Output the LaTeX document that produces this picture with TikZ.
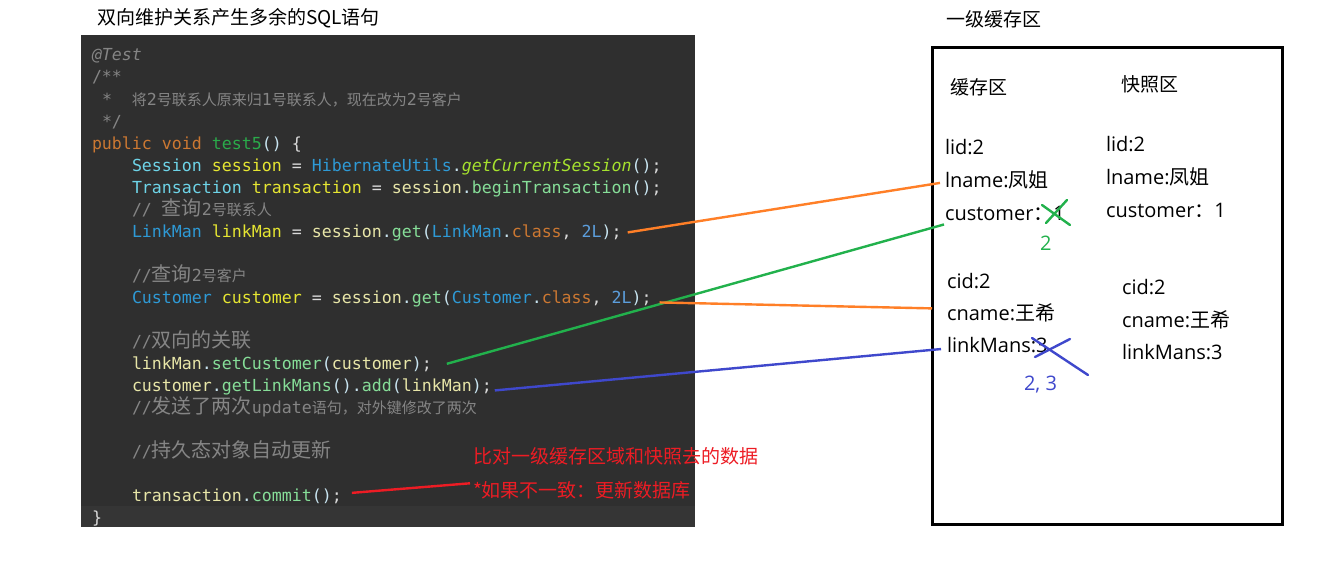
\documentclass[tikz,border=0pt]{standalone}
\usepackage{fontspec}
\newfontfamily\cjk{Noto Sans CJK SC}
\newfontfamily\codefnt{DejaVu Sans Mono}
\newfontfamily\sansf{Open Sans}
\definecolor{panel}{HTML}{2F2F2F}
\definecolor{panelhl}{HTML}{353535}
\definecolor{cmt}{HTML}{858585}
\definecolor{kw}{HTML}{CC7832}
\definecolor{fn}{HTML}{2AAA4A}
\definecolor{itype}{HTML}{6ED4E8}
\definecolor{ctype}{HTML}{2E9AD6}
\definecolor{var}{HTML}{E6E632}
\definecolor{pale}{HTML}{E8E6A8}
\definecolor{meth}{HTML}{86DE98}
\definecolor{italm}{HTML}{A6E22E}
\definecolor{punc}{HTML}{C8E4F0}
\definecolor{num}{HTML}{5C9EDC}
\definecolor{plain}{HTML}{DADADA}
\definecolor{oline}{HTML}{FF7F27}
\definecolor{gline}{HTML}{22B14C}
\definecolor{bline}{HTML}{3F48CC}
\definecolor{rline}{HTML}{ED1C24}
\newcommand\Ckw[1]{\textcolor{kw}{#1}}
\newcommand\Cfn[1]{\textcolor{fn}{#1}}
\newcommand\Cit[1]{\textcolor{itype}{#1}}
\newcommand\Cty[1]{\textcolor{ctype}{#1}}
\newcommand\Cvr[1]{\textcolor{var}{#1}}
\newcommand\Cpa[1]{\textcolor{pale}{#1}}
\newcommand\Cme[1]{\textcolor{meth}{#1}}
\newcommand\Cim[1]{\textcolor{italm}{\itshape #1}}
\newcommand\Cpu[1]{\textcolor{punc}{#1}}
\newcommand\Cnu[1]{\textcolor{num}{#1}}
\newcommand\Cpl[1]{\textcolor{plain}{#1}}
\newcommand\Ccm[1]{\textcolor{cmt}{#1}}
\newcommand\CL[1]{{\cjk\fontsize{20}{22}\selectfont #1}}
\newcommand\CS[1]{{\cjk\fontsize{15}{18}\selectfont #1}}
\tikzset{
  codeline/.style={anchor=base west, inner sep=0pt, outer sep=0pt, text=plain,
    font=\codefnt\fontsize{16.6}{20}\selectfont},
  boxtxt/.style={anchor=base west, inner sep=0pt, outer sep=0pt, text=black,
    font=\sansf\fontsize{20}{24}\selectfont},
  cjktxt/.style={anchor=base west, inner sep=0pt, outer sep=0pt, text=black,
    font=\cjk\fontsize{19}{22}\selectfont},
  conn/.style={line width=2.4pt},
  xmark/.style={line width=2.4pt, line cap=round},
}
\begin{document}
\begin{tikzpicture}[x=1pt,y=-1pt]
\useasboundingbox[fill=white] (0,0) rectangle (1322,578);
% code panel
\fill[panel] (81,35) rectangle (695,527);
\fill[panelhl] (81,506) rectangle (695,527);
% title
\node[cjktxt] (title) at (97,25) {双向维护关系产生多余的SQL语句};
% code lines
\node[codeline] (l1) at (92,61) {\Ccm{\itshape @Test}};
\node[codeline] (l2) at (92,82) {\Ccm{/**}};
\node[codeline] (l3) at (102,105) {\Ccm{*\hspace{20pt}\CS{将}2\CS{号联系人原来归}1\CS{号联系人，现在改为}2\CS{号客户}}};
\node[codeline] (l4) at (102,127) {\Ccm{*/}};
\node[codeline] (l5) at (92,149) {\Ckw{public void} \Cfn{test5}\Cpu{()} \Cpl{\{}};
\node[codeline] (l6) at (132,171) {\Cit{Session} \Cvr{session} \Cpl{=} \Cty{HibernateUtils}\Cpu{.}\Cim{getCurrentSession}\Cpu{()}\Cpl{;}};
\node[codeline] (l7) at (132,193) {\Cit{Transaction} \Cvr{transaction} \Cpl{=} \Cpa{session}\Cpu{.}\Cme{beginTransaction}\Cpu{()}\Cpl{;}};
\node[codeline] (l8) at (132,215) {\Ccm{// \CL{查询}2\CS{号联系人}}};
\node[codeline] (l9) at (132,237) {\Cty{LinkMan} \Cvr{linkMan} \Cpl{=} \Cpa{session}\Cpu{.}\Cme{get}\Cpu{(}\Cty{LinkMan}\Cpu{.}\Ckw{class}\Cpl{,} \Cnu{2L}\Cpu{)}\Cpl{;}};
\node[codeline] (l11) at (132,281) {\Ccm{//\CL{查询}2\CS{号客户}}};
\node[codeline] (l12) at (132,303) {\Cty{Customer} \Cvr{customer} \Cpl{=} \Cpa{session}\Cpu{.}\Cme{get}\Cpu{(}\Cty{Customer}\Cpu{.}\Ckw{class}\Cpl{,} \Cnu{2L}\Cpu{)}\Cpl{;}};
\node[codeline] (l14) at (132,347) {\Ccm{//\CL{双向的关联}}};
\node[codeline] (l15) at (132,369) {\Cpa{linkMan}\Cpu{.}\Cme{setCustomer}\Cpu{(}\Cpa{customer}\Cpu{)}\Cpl{;}};
\node[codeline] (l16) at (132,391) {\Cpa{customer}\Cpu{.}\Cme{getLinkMans}\Cpu{().}\Cme{add}\Cpu{(}\Cpa{linkMan}\Cpu{)}\Cpl{;}};
\node[codeline] (l17) at (132,413) {\Ccm{//\CL{发送了两次}update\CS{语句，对外键修改了两次}}};
\node[codeline] (l19) at (132,457) {\Ccm{//\CL{持久态对象自动更新}}};
\node[codeline] (l21) at (132,501) {\Cpa{transaction}\Cpu{.}\Cme{commit}\Cpu{()}\Cpl{;}};
\node[codeline] (l22) at (92,523) {\Cpl{\}}};
% red notes
\node[cjktxt, text=rline] (red1) at (473,463) {比对一级缓存区域和快照去的数据};
\node[cjktxt, text=rline] (red2) at (473,497) {*如果不一致：更新数据库};
% right box
\node[cjktxt] (cachetitle) at (946,27) {一级缓存区};
\node[draw, line width=3pt, minimum width=350pt, minimum height=476pt, inner sep=0pt, outer sep=0pt] (box) at (1107,286) {};
\node[cjktxt] (cache) at (950,95) {缓存区};
\node[cjktxt] (snap) at (1121,92) {快照区};
\node[boxtxt] (lidL) at (945,154) {lid:2};
\node[boxtxt] (lnameL) at (945,187) {lname:{\cjk 凤姐}};
\node[boxtxt] (custL) at (945,220) {customer{\cjk ：}1};
\node[boxtxt, text=gline] (two) at (1040,250) {2};
\node[boxtxt] (lidR) at (1106,151) {lid:2};
\node[boxtxt] (lnameR) at (1106,184) {lname:{\cjk 凤姐}};
\node[boxtxt] (custR) at (1106,217) {customer{\cjk ：}1};
\node[boxtxt] (cidL) at (947,288) {cid:2};
\node[boxtxt] (cnameL) at (947,320) {cname:{\cjk 王希}};
\node[boxtxt] (lmL) at (947,352) {linkMans:3};
\node[boxtxt, text=bline] (twothree) at (1024,390) {2, 3};
\node[boxtxt] (cidR) at (1122,294) {cid:2};
\node[boxtxt] (cnameR) at (1122,327) {cname:{\cjk 王希}};
\node[boxtxt] (lmR) at (1122,359) {linkMans:3};
% crosses
\draw[xmark, gline] (1042,205) -- (1070,225);
\draw[xmark, gline] (1067,200) -- (1046,223);
\draw[xmark, bline] (1032,338) -- (1088,375);
\draw[xmark, bline] (1070,339) -- (1035,357);
% connectors
\draw[conn, oline] ([xshift=6pt]l9.east) -- ([xshift=-5pt,yshift=-3.5pt]lnameL.west);
\draw[conn, gline] ([xshift=15pt]l15.east) -- ([xshift=-1pt,yshift=-11.5pt]custL.west);
\draw[conn, oline] ([xshift=8pt,yshift=-4pt]l12.east) -- ([xshift=-15pt,yshift=4pt]cnameL.west);
\draw[conn, bline] ([xshift=3pt,yshift=-4pt]l16.east) -- ([xshift=-6pt,yshift=-4.5pt]lmL.west);
\draw[conn, rline] ([xshift=10pt,yshift=3pt]l21.east) -- ([xshift=-3pt,yshift=6.5pt]red2.west);
\end{tikzpicture}
\end{document}
